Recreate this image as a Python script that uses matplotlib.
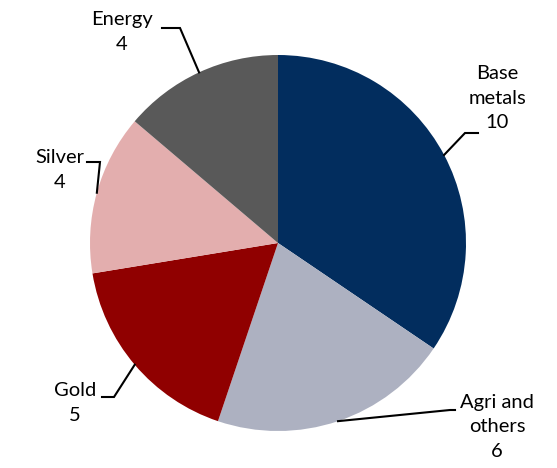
import numpy as np
import matplotlib.pyplot as plt

# commodity exposure split
labels = ['Base\nmetals', 'Agri and\nothers', 'Gold', 'Silver', 'Energy']
values = [10, 6, 5, 4, 4]
colors = ['#022d5e', '#adb1c1', '#900000', '#e3aeae', '#595959']

fig = plt.figure(figsize=(5.57, 4.68), dpi=100)
ax = fig.add_axes([0, 0, 1, 1])

R = 188.0  # pie radius in pixels
cx, cy = 278, 243


def px(x, y):
    # pixel position -> data coords (radius 1 pie)
    return (x - cx) / R, (cy - y) / R


wedges, _ = ax.pie(values, colors=colors, startangle=90, counterclock=False,
                   radius=1, center=(0, 0), wedgeprops=dict(linewidth=0))

# label layout: elbow, line end, text centre (pixels)
layout = [
    ((465, 133), (478, 133), (497, 98)),
    ((450, 410), (455, 410), (497, 427)),
    ((114, 397), (102, 397), (75, 403)),
    ((100, 162), (87, 162), (60, 170)),
    ((180, 28), (162, 28), (122, 32)),
]

for w, lab, v, (elb, end, txt) in zip(wedges, labels, values, layout):
    ang = np.deg2rad((w.theta1 + w.theta2) / 2)
    x0, y0 = np.cos(ang), np.sin(ang)
    x1, y1 = px(*elb)
    x2, y2 = px(*end)
    ax.plot([x0, x1, x2], [y0, y1, y2], color='black', lw=1.5,
            solid_joinstyle='miter')
    tx, ty = px(*txt)
    ax.text(tx, ty, f'{lab}\n{v}', ha='center', va='center',
            fontsize=14.5, family='Lato', linespacing=1.55)

ax.set_xlim(-cx / R, (557 - cx) / R)
ax.set_ylim((cy - 468) / R, cy / R)
ax.set_aspect('auto')
ax.axis('off')

fig.savefig('out.png', dpi=100)
